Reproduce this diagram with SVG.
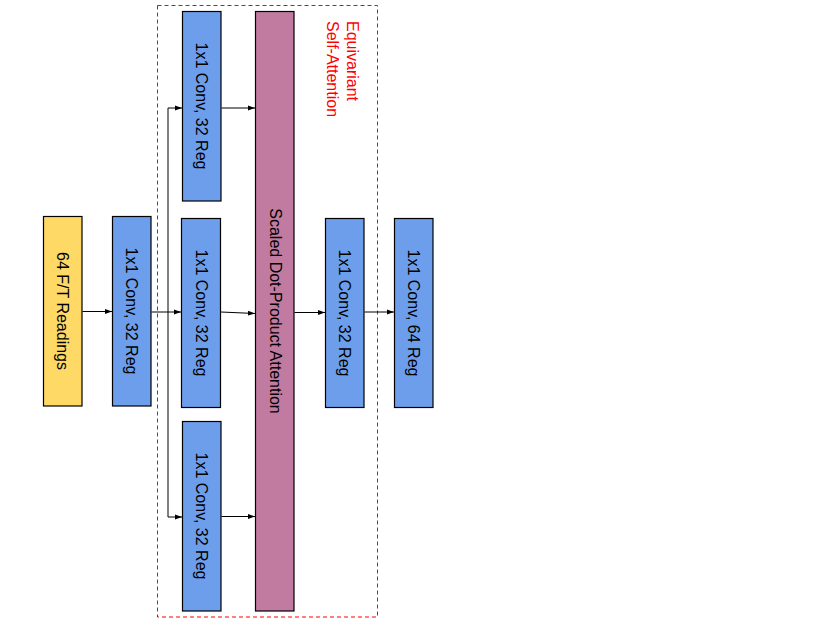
<svg xmlns="http://www.w3.org/2000/svg" width="837" height="623" viewBox="0 0 837 623">
<style>
.box{stroke:#000;stroke-width:1.2}
.conv{fill:#6D9EEB}
.lbl{font-family:"Liberation Sans",Arial,sans-serif;font-size:16px;fill:#000;text-anchor:middle;dominant-baseline:central}
.c{fill:none;stroke:#000;stroke-width:1}
</style>
<defs>
<marker id="ah" viewBox="0 0 10 10" refX="10" refY="5" markerWidth="7" markerHeight="7" markerUnits="userSpaceOnUse" orient="auto">
<path d="M0,1.5 L10,5 L0,8.5 Z" fill="#000"/>
</marker>
</defs>
<rect width="837" height="623" fill="#fff"/>
<g id="group-esa">
<rect x="157.5" y="5.5" width="220" height="611.5" fill="none" stroke="#f00" stroke-width="1" stroke-dasharray="4,3"/>
<text font-family="Liberation Sans,Arial,sans-serif" font-size="16" fill="#f00" transform="translate(347,21) rotate(90)">Equivariant</text>
<text font-family="Liberation Sans,Arial,sans-serif" font-size="16" fill="#f00" transform="translate(327,21) rotate(90)">Self-Attention</text>
</g>
<g id="connectors">
<path class="c" d="M82.5,311.5 H112" marker-end="url(#ah)"/>
<path class="c" d="M151.5,312 H181" marker-end="url(#ah)"/>
<path class="c" d="M168,312 V108 H182" marker-end="url(#ah)"/>
<path class="c" d="M168,312 V517 H182" marker-end="url(#ah)"/>
<path class="c" d="M221.5,108 H255" marker-end="url(#ah)"/>
<path class="c" d="M221,312 L255,313.5" marker-end="url(#ah)"/>
<path class="c" d="M221.5,516.5 H255" marker-end="url(#ah)"/>
<path class="c" d="M294.5,312.5 H325" marker-end="url(#ah)"/>
<path class="c" d="M364.5,312 H394" marker-end="url(#ah)"/>
</g>
<g id="node-input">
<rect class="box" x="43.5" y="216.5" width="38.5" height="189.5" fill="#FFD966"/>
<text class="lbl" transform="translate(62.5,311) rotate(90)">64 F/T Readings</text>
</g>
<g id="node-conv1">
<rect class="box conv" x="112.5" y="216.5" width="38.5" height="189.5"/>
<text class="lbl" transform="translate(131.5,311) rotate(90)">1x1 Conv, 32 Reg</text>
</g>
<g id="node-conv-q">
<rect class="box conv" x="182.5" y="11.5" width="38.5" height="189.5"/>
<text class="lbl" transform="translate(201.5,106) rotate(90)">1x1 Conv, 32 Reg</text>
</g>
<g id="node-conv-k">
<rect class="box conv" x="181.5" y="218.5" width="39" height="189"/>
<text class="lbl" transform="translate(201,313) rotate(90)">1x1 Conv, 32 Reg</text>
</g>
<g id="node-conv-v">
<rect class="box conv" x="182.5" y="421.5" width="38.5" height="189.5"/>
<text class="lbl" transform="translate(201.5,516) rotate(90)">1x1 Conv, 32 Reg</text>
</g>
<g id="node-attention">
<rect class="box" x="255.5" y="11.5" width="38.5" height="599.5" fill="#C27BA0"/>
<text class="lbl" transform="translate(275,311) rotate(90)">Scaled Dot-Product Attention</text>
</g>
<g id="node-conv-out">
<rect class="box conv" x="325.5" y="218.5" width="38.5" height="189"/>
<text class="lbl" transform="translate(344.5,313) rotate(90)">1x1 Conv, 32 Reg</text>
</g>
<g id="node-conv64">
<rect class="box conv" x="394.5" y="218.5" width="38.5" height="189"/>
<text class="lbl" transform="translate(413.5,313) rotate(90)">1x1 Conv, 64 Reg</text>
</g>
</svg>
